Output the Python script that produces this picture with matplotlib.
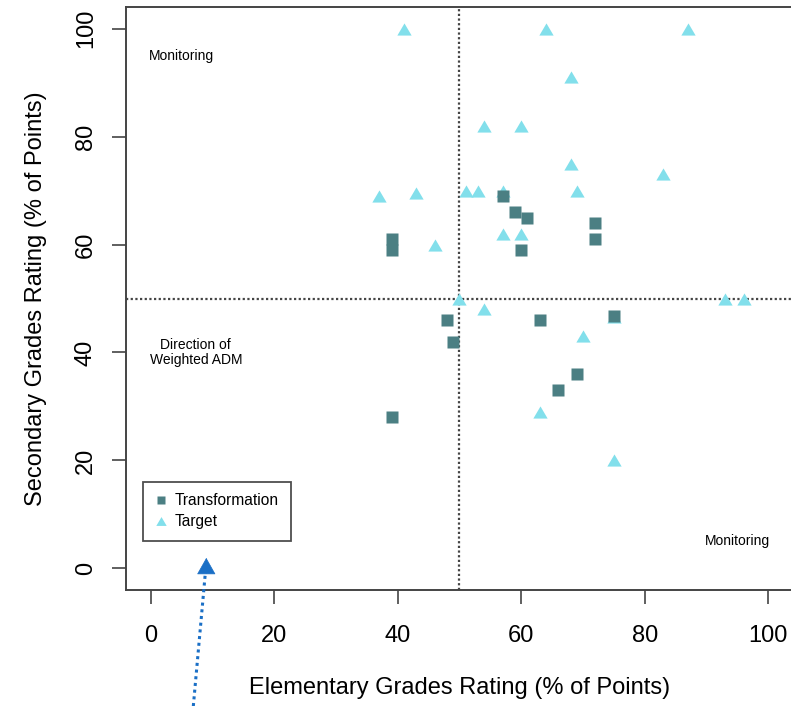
import matplotlib.pyplot as plt
from matplotlib.lines import Line2D

plt.rcParams['font.family'] = ['Liberation Sans', 'DejaVu Sans']

# Schools in the transformation group (elementary %, secondary %)
transform_elem = [39, 39, 39, 48, 49, 57, 59, 61, 60, 72, 72, 63, 75, 69, 66]
transform_sec = [61, 59, 28, 46, 42, 69, 66, 65, 59, 64, 61, 46, 46.7, 36, 33]

# Schools in the target group
target_elem = [41, 37, 43, 46, 64, 87, 68, 54, 60, 68, 83, 51, 53, 57, 69,
               57, 60, 50, 93, 96, 54, 70, 63, 75, 75]
target_sec = [100, 69, 69.5, 60, 100, 100, 91, 82, 82, 75, 73, 70, 70, 70, 70,
              62, 62, 50, 50, 50, 48, 43, 29, 20, 46.5]

ticks = [0, 20, 40, 60, 80, 100]
cut = 50

sq_color = '#4b7f83'
tri_color = '#82dfeb'
axis_gray = '#444444'
arrow_blue = '#1a6fc6'

# flatter triangle than matplotlib's default '^'
tri_marker = [(0, 0.85), (-1, -0.85), (1, -0.85)]

fig = plt.figure(figsize=(7.91, 7.06), dpi=100)
ax = fig.add_axes([126 / 791, 116 / 706, 667 / 791, 583 / 706])

ax.set_xlim(-4, 104)
ax.set_ylim(-4, 104)

# quadrant dividers
ax.axvline(cut, color=axis_gray, lw=1.6, linestyle=(0, (1, 1.1)), zorder=1)
ax.axhline(cut, color=axis_gray, lw=1.6, linestyle=(0, (1, 1.1)), zorder=1)

ax.plot(target_elem, target_sec, linestyle='none', marker=tri_marker, ms=10.3,
        color=tri_color, mec='none', zorder=2)
ax.plot(transform_elem, transform_sec, linestyle='none', marker='s', ms=8,
        color=sq_color, mec='none', zorder=3)

ax.text(5, 95, 'Monitoring', ha='center', va='center', fontsize=10)
ax.text(95, 5, 'Monitoring', ha='center', va='center', fontsize=10)
ax.text(7.3, 40, 'Direction of\nWeighted ADM', ha='center', va='center',
        fontsize=10, linespacing=1.1)

handles = [
    Line2D([], [], linestyle='none', marker='s', ms=6, color=sq_color, mec='none'),
    Line2D([], [], linestyle='none', marker=tri_marker, ms=7.5, color=tri_color,
           mec='none'),
]
leg = ax.legend(handles, ['Transformation', 'Target'], loc='lower left',
                bbox_to_anchor=(0.0255, 0.084), fontsize=11.2, frameon=True,
                fancybox=False, borderpad=0.75, handlelength=0.8,
                handletextpad=0.5, labelspacing=0.38, borderaxespad=0)
leg.get_frame().set_edgecolor('#222222')
leg.get_frame().set_linewidth(1.3)

ax.set_xticks(ticks)
ax.set_yticks(ticks)
ax.tick_params(axis='both', direction='out', length=10, width=1.2,
               color=axis_gray, labelsize=17)
ax.tick_params(axis='x', pad=15)
ax.tick_params(axis='y', pad=11)
for lbl in ax.get_yticklabels():
    lbl.set_rotation(90)
    lbl.set_va('center')

for s in ax.spines.values():
    s.set_color(axis_gray)
    s.set_linewidth(1.4)

ax.set_xlabel('Elementary Grades Rating (% of Points)', fontsize=17, labelpad=22)
ax.set_ylabel('Secondary Grades Rating (% of Points)', fontsize=17, labelpad=20)

# dotted pointer toward the legend corner: dotted shaft, solid head
ax.plot([6.9, 8.85], [-25.5, -0.8], color=arrow_blue, lw=2.2,
        linestyle=(0, (1, 1.2)), clip_on=False, zorder=4)
ax.annotate('', xy=(9.0, 1.95), xytext=(9.0, -0.9), xycoords='data',
            annotation_clip=False,
            arrowprops=dict(arrowstyle='-|>,head_length=1.1,head_width=0.62',
                            color=arrow_blue, lw=0.5,
                            shrinkA=0, shrinkB=0))

fig.savefig('out.png', dpi=100)
